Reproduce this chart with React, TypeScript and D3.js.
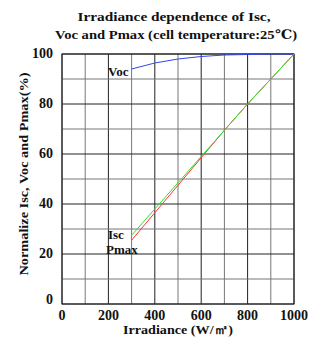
import React from "react";
import * as d3 from "d3";

const irradiance = [300, 400, 500, 600, 700, 800, 900, 1000];
const vocValues = [94, 96.4, 98, 99, 99.6, 99.8, 100, 100];
const iscValues = [27.5, 38, 48.5, 59, 69.5, 80, 90, 100];
const pmaxValues = [25.5, 36.5, 47.5, 58.5, 69.5, 80, 90, 100];
const xTicks = [0, 200, 400, 600, 800, 1000];
const yTicks = [0, 20, 40, 60, 80, 100];
const xGrid = d3.range(0, 1001, 100);
const yGrid = d3.range(0, 101, 10);

const W = 317, H = 338;
const left = 62, right = 294, top = 54, bottom = 304;

export default function App() {
  const x = d3.scaleLinear().domain([0, 1000]).range([left, right]);
  const y = d3.scaleLinear().domain([0, 100]).range([bottom, top]);
  const line = (vals: number[]) =>
    d3.line<number>().x((_, i) => x(irradiance[i])).y((v) => y(v))(vals) || "";
  const font = "'Liberation Serif', 'DejaVu Serif', serif";
  const tfont = "'Liberation Serif', 'DejaVu Serif', serif";
  return (
    <svg width={W} height={H} style={{ position: "absolute", left: 0, top: 0 }}>
      <rect width={W} height={H} fill="#fff" />
      <text x={174} y={21} textAnchor="middle" fontFamily={tfont} fontWeight="bold" fontSize={13} textLength={193} lengthAdjust="spacingAndGlyphs" fill="#111">Irradiance dependence of Isc,</text>
      <text x={176} y={39} textAnchor="middle" fontFamily={tfont} fontWeight="bold" fontSize={13} textLength={242} lengthAdjust="spacingAndGlyphs" fill="#111">Voc and Pmax (cell temperature:25℃)</text>
      {xGrid.map((v, i) => (
        <line key={"xg" + v} x1={x(v)} x2={x(v)} y1={top} y2={bottom} stroke={i % 2 ? "#777" : "#222"} strokeWidth={1} />
      ))}
      {yGrid.map((v, i) => (
        <line key={"yg" + v} x1={left} x2={right} y1={y(v)} y2={y(v)} stroke={i % 2 ? "#777" : "#222"} strokeWidth={1} />
      ))}
      <rect x={left} y={top} width={right - left} height={bottom - top} fill="none" stroke="#222" />
      {yTicks.map((v) => (
        <text key={"yt" + v} x={53} y={v === 0 ? y(v) : y(v) + 4} textAnchor="end" fontFamily={font} fontWeight="bold" fontSize={14} fill="#111">{v}</text>
      ))}
      {xTicks.map((v) => (
        <text key={"xt" + v} x={x(v)} y={320} textAnchor="middle" fontFamily={font} fontWeight="bold" fontSize={14} fill="#111">{v}</text>
      ))}
      <text x={178} y={334} textAnchor="middle" fontFamily={tfont} fontWeight="bold" fontSize={12.5} textLength={110} lengthAdjust="spacingAndGlyphs" fill="#111">Irradiance (W/㎡)</text>
      <text transform="translate(28,174) rotate(-90)" textAnchor="middle" fontFamily={tfont} fontWeight="bold" fontSize={13} textLength={203} lengthAdjust="spacingAndGlyphs" fill="#111">Normalize Isc, Voc and Pmax(%)</text>
      <path d={line(vocValues)} fill="none" stroke="#3344ee" strokeWidth={1} />
      <path d={line(pmaxValues)} fill="none" stroke="#ff3333" strokeWidth={1} />
      <path d={line(iscValues)} fill="none" stroke="#33dd33" strokeWidth={1} />
      <text x={108} y={76} fontFamily={font} fontWeight="bold" fontSize={13} fill="#111">Voc</text>
      <text x={108} y={239} fontFamily={font} fontWeight="bold" fontSize={13} fill="#111">Isc</text>
      <text x={106} y={254} fontFamily={font} fontWeight="bold" fontSize={13} fill="#111">Pmax</text>
    </svg>
  );
}
